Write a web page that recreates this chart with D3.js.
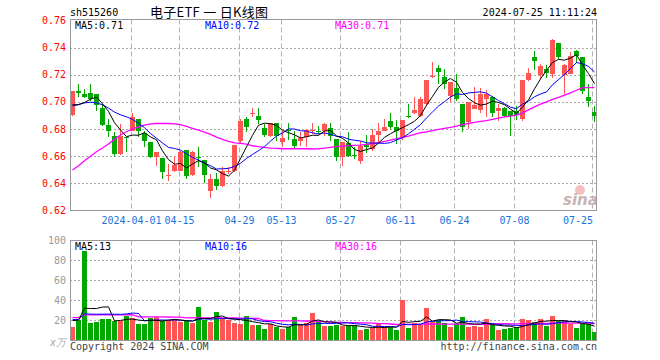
<!DOCTYPE html>
<html>
<head>
<meta charset="utf-8">
<title>电子ETF 日K线图</title>
<script src="https://d3js.org/d3.v7.min.js"></script>
<style>
  body { margin: 0; background: #fff; }
  svg { font-family: "DejaVu Sans Mono", monospace; font-size: 10px; }
  .grid-h { stroke: #a8a8a8; stroke-dasharray: 2,2; }
  .grid-v { stroke: #b0b0b0; stroke-dasharray: 5,3; }
  .frame { stroke: #999; }
  .ma { fill: none; }
</style>
</head>
<body>
<svg width="660" height="360"></svg>
<script>
const dates = [
  "03-18","03-19","03-20","03-21","03-22","03-25","03-26","03-27","03-28","03-29",
  "04-01","04-02","04-03","04-08","04-09","04-10","04-11","04-12","04-15","04-16",
  "04-17","04-18","04-19","04-22","04-23","04-24","04-25","04-26","04-29","04-30",
  "05-06","05-07","05-08","05-09","05-10","05-13","05-14","05-15","05-16","05-17",
  "05-20","05-21","05-22","05-23","05-24","05-27","05-28","05-29","05-30","05-31",
  "06-03","06-04","06-05","06-06","06-07","06-11","06-12","06-13","06-14","06-17",
  "06-18","06-19","06-20","06-21","06-24","06-25","06-26","06-27","06-28","07-01",
  "07-02","07-03","07-04","07-05","07-08","07-09","07-10","07-11","07-12","07-15",
  "07-16","07-17","07-18","07-19","07-22","07-23","07-24","07-25"
];
const open = [
  0.6905,0.7077,0.7057,0.7064,0.7057,0.6954,0.6832,0.6751,0.6616,0.6743,
  0.6788,0.6873,0.6768,0.6704,0.6596,0.6587,0.6457,0.6494,0.6494,0.6645,
  0.6464,0.6596,0.6572,0.6346,0.6432,0.6383,0.6481,0.6489,0.6709,0.6873,
  0.6915,0.6898,0.6807,0.6751,0.6842,0.6702,0.6792,0.6726,0.6714,0.6739,
  0.6783,0.6788,0.6783,0.6807,0.6726,0.6592,0.6694,0.6609,0.6567,0.6689,
  0.6653,0.6758,0.6788,0.6856,0.6812,0.6739,0.6900,0.6922,0.6898,0.6984,
  0.7187,0.7253,0.7184,0.7045,0.7101,0.6984,0.6849,0.6947,0.6939,0.7020,
  0.7037,0.6930,0.6954,0.6930,0.6930,0.6873,0.7160,0.7331,0.7199,0.7241,
  0.7209,0.7437,0.7199,0.7204,0.7373,0.7334,0.7033,0.6927
];
const high = [
  0.7082,0.7130,0.7094,0.7130,0.7057,0.6983,0.6873,0.6775,0.6837,0.6743,
  0.6922,0.6873,0.6788,0.6704,0.6628,0.6587,0.6543,0.6596,0.6640,0.6645,
  0.6640,0.6670,0.6572,0.6469,0.6474,0.6518,0.6523,0.6682,0.6873,0.6890,
  0.6954,0.6954,0.6836,0.6842,0.6842,0.6788,0.6842,0.6783,0.6775,0.6800,
  0.6842,0.6824,0.6842,0.6842,0.6726,0.6702,0.6775,0.6665,0.6709,0.6758,
  0.6800,0.6842,0.6873,0.6922,0.6866,0.6866,0.6983,0.7033,0.7033,0.7160,
  0.7297,0.7273,0.7241,0.7150,0.7209,0.6984,0.7003,0.7113,0.7106,0.7086,
  0.7045,0.6988,0.6959,0.6930,0.6971,0.7160,0.7248,0.7375,0.7282,0.7273,
  0.7461,0.7437,0.7278,0.7367,0.7383,0.7334,0.7130,0.6971
];
const low = [
  0.6898,0.7033,0.7028,0.7008,0.6934,0.6824,0.6743,0.6596,0.6611,0.6628,
  0.6783,0.6743,0.6670,0.6587,0.6530,0.6432,0.6420,0.6486,0.6489,0.6432,
  0.6457,0.6518,0.6400,0.6293,0.6351,0.6371,0.6469,0.6481,0.6694,0.6775,
  0.6886,0.6836,0.6739,0.6743,0.6709,0.6665,0.6719,0.6653,0.6677,0.6670,
  0.6763,0.6763,0.6751,0.6709,0.6562,0.6530,0.6596,0.6579,0.6543,0.6621,
  0.6636,0.6702,0.6788,0.6800,0.6689,0.6719,0.6881,0.6910,0.6890,0.6971,
  0.7180,0.7130,0.7094,0.6996,0.7008,0.6775,0.6800,0.6947,0.6922,0.6890,
  0.6890,0.6856,0.6886,0.6751,0.6866,0.6856,0.7155,0.7233,0.7167,0.7180,
  0.7180,0.7314,0.7057,0.7204,0.7290,0.7057,0.6966,0.6854
];
const close = [
  0.7082,0.7068,0.7033,0.7020,0.6979,0.6832,0.6788,0.6616,0.6751,0.6734,
  0.6890,0.6783,0.6709,0.6596,0.6628,0.6481,0.6461,0.6538,0.6628,0.6457,
  0.6628,0.6587,0.6464,0.6432,0.6383,0.6494,0.6494,0.6682,0.6861,0.6812,
  0.6920,0.6866,0.6758,0.6842,0.6751,0.6734,0.6783,0.6677,0.6731,0.6792,
  0.6790,0.6778,0.6837,0.6751,0.6592,0.6702,0.6604,0.6599,0.6677,0.6665,
  0.6758,0.6783,0.6812,0.6812,0.6783,0.6866,0.6890,0.6939,0.7020,0.7160,
  0.7194,0.7224,0.7135,0.7150,0.7020,0.6817,0.7003,0.6979,0.7062,0.7062,
  0.6922,0.6954,0.6898,0.6898,0.6905,0.7160,0.7216,0.7302,0.7265,0.7216,
  0.7454,0.7331,0.7273,0.7342,0.7339,0.7082,0.7008,0.6898
];
// 成交量（万）
const volume = [
  13.3,20,89.3,17.3,18.3,20.7,20.7,19.3,19.3,24,
  21.7,16,16,21.7,22.7,19.3,20,20,18.3,19.3,
  17.3,33.3,20,18.3,28.3,20.7,20,17.3,16,24,
  15,15,11.3,16,13.3,10.7,13.3,23.3,15,16.7,
  27.3,18.3,14,14,15,14,15,15,10,11,
  11.7,16.7,13.3,13.3,10,40,12.3,16.7,15,32.3,
  18.3,20,16.7,13.3,16,23.3,13.3,14.3,13.3,21,
  15,10,11,12.3,13.3,21,20,18,21.5,14.3,
  24,19.3,19,16,12.5,16,16,8.5
];
// moving averages whose window starts before the chart
const ma5Head = [0.6979,0.6981,0.6996,0.7020];
const ma10Head = [0.6971,0.6979,0.6993,0.6998,0.6993,0.6979,0.6954,0.6925,0.6905];
const ma30 = [
  0.6498,0.6530,0.6567,0.6599,0.6633,0.6660,0.6690,0.6724,0.6756,0.6780,
  0.6802,0.6817,0.6829,0.6839,0.6841,0.6841,0.6841,0.6839,0.6832,0.6819,
  0.6805,0.6792,0.6778,0.6761,0.6741,0.6724,0.6709,0.6699,0.6694,0.6689,
  0.6677,0.6670,0.6665,0.6660,0.6658,0.6655,0.6655,0.6655,0.6655,0.6655,
  0.6653,0.6655,0.6660,0.6665,0.6670,0.6675,0.6677,0.6680,0.6682,0.6687,
  0.6692,0.6699,0.6709,0.6719,0.6729,0.6739,0.6748,0.6761,0.6773,0.6780,
  0.6788,0.6797,0.6805,0.6812,0.6822,0.6832,0.6841,0.6849,0.6856,0.6863,
  0.6871,0.6881,0.6890,0.6895,0.6903,0.6920,0.6942,0.6964,0.6984,0.7001,
  0.7018,0.7033,0.7050,0.7067,0.7086,0.7106,0.7106,0.7106
];
const volMa5Head = [19.5,20,32,31.7];
const volMa10Head = [20.5,20.5,26.3,26,25.9,26,26,25.9,25.8];
const volMa30 = [
  22.5,22.5,25.3,25.3,25.3,25.4,25.4,25.3,25.3,25.4,
  25.4,23.3,23.2,23.2,23.3,23.2,23.1,23.0,22.9,22.3,
  22.2,22.4,22.3,22.2,22.4,22.3,22.2,22.1,22.0,22.0,
  21.8,21.6,19.6,19.5,19.4,19.3,19.2,19.3,19.2,19.1,
  19.2,18.6,18.4,18.3,17.8,17.6,17.5,17.4,17.3,17.2,
  17.0,16.6,16.4,16.1,15.6,15.8,15.8,15.8,15.8,16.2,
  16.1,16.1,16.0,15.9,15.9,16.0,15.9,15.8,15.8,15.9,
  15.8,16.5,16.4,16.3,16.3,16.5,16.6,16.6,16.8,16.7,
  17.0,17.0,17.1,17.0,16.9,16.9,16.9,16.6
];
const priceTicks = [0.62,0.64,0.66,0.68,0.70,0.72,0.74,0.76];
const volTicks = [20,40,60,80,100];
const tickDates = ["04-01","04-15","04-29","05-13","05-27","06-11","06-24","07-08","07-25"];
const tickLabels = ["2024-04-01","04-15","04-29","05-13","05-27","06-11","06-24","07-08","07-25"];

const UP = "#ff5555", DOWN = "#00a800";
const svg = d3.select("svg");
const left = 70, right = 597;
const pTop = 19.5, pBot = 210.5, vTop = 240.5, vBot = 340.5;

function rolling(vals, n, head) {
  return vals.map((v, i) => i < n - 1 ? head[i] : d3.mean(vals.slice(i - n + 1, i + 1)));
}
const ma5 = rolling(close, 5, ma5Head);
const ma10 = rolling(close, 10, ma10Head);
const vma5 = rolling(volume, 5, volMa5Head);
const vma10 = rolling(volume, 10, volMa10Head);

const x = d3.scaleBand().domain(dates).range([left, right]);
const y = d3.scaleLinear().domain([0.62, 0.76]).range([pBot, 20.5]);
const yv = d3.scaleLinear().domain([0, 100]).range([340, 240.5]);
const cx = d => Math.floor(x(d) + x.bandwidth() / 2) + 0.5;
const gx = d => Math.round(x(d)) + 1.5;

// header
svg.append("text").attr("x", 70).attr("y", 16).text("sh515260");
svg.append("text").attr("x", 150).attr("y", 17)
  .style("font-family", "'Noto Sans CJK SC', sans-serif").style("font-size", "13px")
  .attr("textLength", 118).attr("lengthAdjust", "spacing")
  .attr("xml:space", "preserve")
  .text("电子ETF 一 日K线图");
svg.append("text").attr("x", right).attr("y", 16).attr("text-anchor", "end")
  .text("2024-07-25 11:11:24");

// grids
svg.append("g").selectAll("line").data(priceTicks.slice(1, -1)).join("line")
  .attr("class", "grid-h").attr("x1", left).attr("x2", right)
  .attr("y1", d => Math.round(y(d)) + 0.5).attr("y2", d => Math.round(y(d)) + 0.5);
svg.append("g").selectAll("line").data(volTicks.slice(0, -1)).join("line")
  .attr("class", "grid-h").attr("x1", left).attr("x2", right)
  .attr("y1", d => Math.round(yv(d)) + 0.5).attr("y2", d => Math.round(yv(d)) + 0.5);
const vg = svg.append("g");
tickDates.forEach(d => {
  vg.append("line").attr("class", "grid-v").attr("x1", gx(d)).attr("x2", gx(d)).attr("y1", pTop).attr("y2", pBot);
  vg.append("line").attr("class", "grid-v").attr("x1", gx(d)).attr("x2", gx(d)).attr("y1", vTop).attr("y2", vBot);
});

// sina mark
svg.append("circle").attr("cx", 580).attr("cy", 190).attr("r", 5)
  .attr("fill", "#f2b0b0").attr("opacity", 0.8);
svg.append("text").attr("x", 563).attr("y", 205)
  .style("font-family", "'DejaVu Sans', sans-serif").style("font-size", "15px")
  .style("font-style", "italic").style("font-weight", "bold")
  .attr("fill", "#c8b4b4").text("sina");

// price axis labels
svg.append("g").selectAll("text").data(priceTicks).join("text")
  .attr("x", 66).attr("y", d => y(d)).attr("dy", "0.35em").attr("text-anchor", "end")
  .attr("fill", "#ff0000").text(d => d.toFixed(2));
// volume axis labels
svg.append("g").selectAll("text").data(volTicks).join("text")
  .attr("x", 66).attr("y", d => yv(d)).attr("dy", "0.35em").attr("text-anchor", "end")
  .attr("fill", "#999").text(d => d);
svg.append("text").attr("x", 50).attr("y", 346).attr("fill", "#aaa")
  .style("font-style", "italic").text("x万");

// date labels
svg.append("g").selectAll("text").data(tickDates).join("text")
  .attr("x", (d, i) => Math.min(gx(d), right - 4 - tickLabels[i].length * 3))
  .attr("y", 224).attr("text-anchor", "middle").attr("fill", "#1a73d9")
  .text((d, i) => tickLabels[i]);

// candles
const candles = svg.append("g").attr("shape-rendering", "crispEdges");
dates.forEach((d, i) => {
  const col = close[i] >= open[i] ? UP : DOWN;
  candles.append("line").attr("x1", cx(d)).attr("x2", cx(d))
    .attr("y1", y(high[i])).attr("y2", y(low[i])).attr("stroke", col);
  const top = y(Math.max(open[i], close[i])), bot = y(Math.min(open[i], close[i]));
  candles.append("rect").attr("x", cx(d) - 2.5).attr("width", 5)
    .attr("y", top).attr("height", Math.max(1, bot - top)).attr("fill", col);
});

// volume bars
svg.append("g").attr("shape-rendering", "crispEdges").selectAll("rect").data(dates).join("rect")
  .attr("x", d => cx(d) - 2.5).attr("width", 5)
  .attr("y", (d, i) => yv(volume[i])).attr("height", (d, i) => 340 - yv(volume[i]))
  .attr("fill", (d, i) => close[i] >= open[i] ? UP : DOWN);

// moving averages
function maLine(vals, scale, color, w) {
  svg.append("path").attr("class", "ma")
    .datum(vals)
    .attr("d", d3.line().x((v, i) => cx(dates[i])).y(v => scale(v)))
    .attr("stroke", color).attr("stroke-width", w);
}
maLine(ma30, y, "#ff00ff", 1.3);
maLine(ma10, y, "#0000ff", 1);
maLine(ma5, y, "#000000", 1);
maLine(volMa30, yv, "#ff00ff", 1.3);
maLine(vma10, yv, "#0000ff", 1);
maLine(vma5, yv, "#000000", 1);

// frames
[[pTop, pBot], [vTop, vBot]].forEach(([t, b]) => {
  svg.append("rect").attr("class", "frame").attr("fill", "none")
    .attr("x", left + 0.5).attr("y", t).attr("width", right - left - 1).attr("height", b - t);
});

// legends
const last = a => a[a.length - 1];
const legend = [
  ["MA5:" + last(ma5).toFixed(2), "#000", 75, 29],
  ["MA10:" + last(ma10).toFixed(2), "#0000ff", 205, 29],
  ["MA30:" + last(ma30).toFixed(2), "#ff00ff", 335, 29],
  ["MA5:" + Math.floor(last(vma5)), "#000", 75, 250],
  ["MA10:" + Math.floor(last(vma10)), "#0000ff", 205, 250],
  ["MA30:" + Math.floor(last(volMa30)), "#ff00ff", 335, 250]
];
svg.append("g").selectAll("text").data(legend).join("text")
  .attr("x", d => d[2]).attr("y", d => d[3]).attr("fill", d => d[1]).text(d => d[0]);

// footer
svg.append("text").attr("x", 70).attr("y", 350).attr("fill", "#444").text("Copyright 2024 SINA.COM");
svg.append("text").attr("x", right).attr("y", 350).attr("text-anchor", "end")
  .attr("fill", "#444").text("http://finance.sina.com.cn");
</script>
</body>
</html>
